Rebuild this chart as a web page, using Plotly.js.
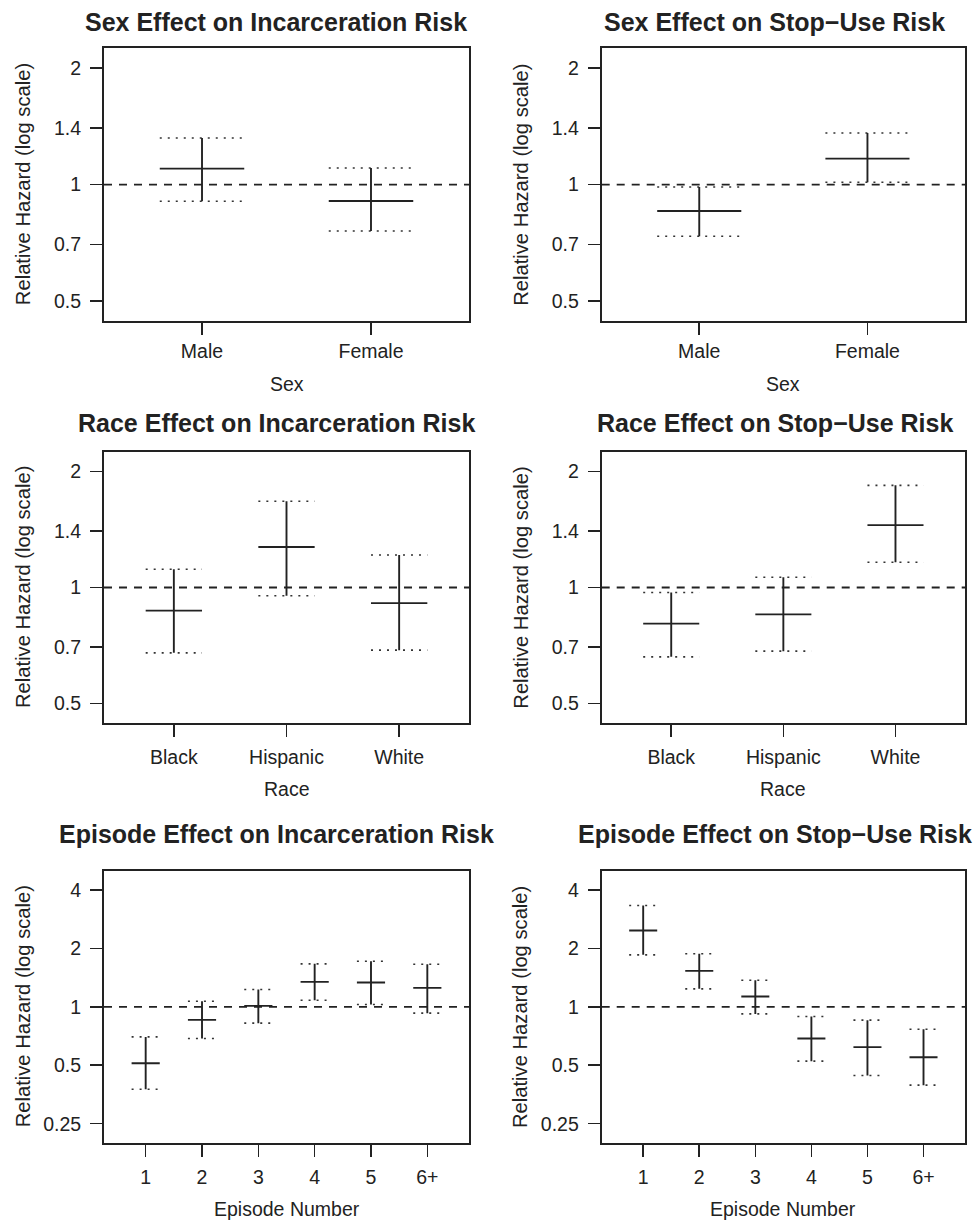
<!DOCTYPE html>
<html>
<head>
<meta charset="utf-8">
<script src="https://cdn.plot.ly/plotly-3.0.1.min.js"></script>
<style>
  html, body { margin: 0; padding: 0; background: #ffffff; }
  #chart { width: 975px; height: 1220px; }
</style>
</head>
<body>
<div id="chart"></div>
<script>
// ---------------- DATA ----------------
const sexCategories = ["Male", "Female"];
const sexIncEstimate = [1.10, 0.907];
const sexIncLower    = [0.906, 0.759];
const sexIncUpper    = [1.319, 1.104];

const sexStopEstimate = [0.855, 1.167];
const sexStopLower    = [0.736, 1.014];
const sexStopUpper    = [0.986, 1.359];

const raceCategories = ["Black", "Hispanic", "White"];
const raceIncEstimate = [0.871, 1.273, 0.911];
const raceIncLower    = [0.677, 0.952, 0.688];
const raceIncUpper    = [1.115, 1.674, 1.214];

const raceStopEstimate = [0.806, 0.852, 1.451];
const raceStopLower    = [0.661, 0.684, 1.163];
const raceStopUpper    = [0.971, 1.063, 1.840];

const episodeCategories = ["1", "2", "3", "4", "5", "6+"];
const epIncEstimate = [0.5125, 0.857, 1.012, 1.345, 1.335, 1.253];
const epIncLower    = [0.376, 0.687, 0.824, 1.082, 1.028, 0.928];
const epIncUpper    = [0.700, 1.069, 1.228, 1.666, 1.719, 1.659];

const epStopEstimate = [2.474, 1.533, 1.130, 0.687, 0.620, 0.550];
const epStopLower    = [1.853, 1.238, 0.920, 0.525, 0.443, 0.395];
const epStopUpper    = [3.33, 1.876, 1.372, 0.892, 0.854, 0.767];

const yTicksNarrow = [0.5, 0.7, 1, 1.4, 2];
const yTickTextNarrow = ["0.5", "0.7", "1", "1.4", "2"];
const yTicksWide = [0.25, 0.5, 1, 2, 4];
const yTickTextWide = ["0.25", "0.5", "1", "2", "4"];
const referenceValue = 1;

const titles = [
  "Sex Effect on Incarceration Risk", "Sex Effect on Stop\u2212Use Risk",
  "Race Effect on Incarceration Risk", "Race Effect on Stop\u2212Use Risk",
  "Episode Effect on Incarceration Risk", "Episode Effect on Stop\u2212Use Risk"
];
const xTitles = ["Sex", "Sex", "Race", "Race", "Episode Number", "Episode Number"];
const yTitle = "Relative Hazard (log scale)";

// ---------------- LAYOUT GEOMETRY ----------------
const W = 975, H = 1220;
const FONT = "Liberation Sans, Arial, Helvetica, sans-serif";
const INK = "#222222";
const colX = [[104, 469], [601.7, 965]];
const rowY = [[48.3, 321], [451.7, 723.3], [871, 1142.7]];
const titleX = [276, 774.5];
const titleY = [21.5, 422.5, 834];
const HALF = 0.25;

const panels = [
  {cats: sexCategories, est: sexIncEstimate, lo: sexIncLower, hi: sexIncUpper, row: 0, col: 0},
  {cats: sexCategories, est: sexStopEstimate, lo: sexStopLower, hi: sexStopUpper, row: 0, col: 1},
  {cats: raceCategories, est: raceIncEstimate, lo: raceIncLower, hi: raceIncUpper, row: 1, col: 0},
  {cats: raceCategories, est: raceStopEstimate, lo: raceStopLower, hi: raceStopUpper, row: 1, col: 1},
  {cats: episodeCategories, est: epIncEstimate, lo: epIncLower, hi: epIncUpper, row: 2, col: 0},
  {cats: episodeCategories, est: epStopEstimate, lo: epStopLower, hi: epStopUpper, row: 2, col: 1}
];

const px2fx = p => p / W;
const px2fy = p => 1 - p / H;

const traces = [];
const layout = {
  width: W, height: H,
  margin: {l: 0, r: 0, t: 0, b: 0},
  paper_bgcolor: "#ffffff", plot_bgcolor: "#ffffff",
  showlegend: false,
  font: {family: FONT, color: INK, size: 19.5},
  annotations: [],
  shapes: []
};

const standoffX = [0, 3, 4];

panels.forEach((p, k) => {
  const n = k + 1;
  const xa = n === 1 ? "x" : "x" + n;
  const ya = n === 1 ? "y" : "y" + n;
  const xKey = n === 1 ? "xaxis" : "xaxis" + n;
  const yKey = n === 1 ? "yaxis" : "yaxis" + n;
  const m = p.cats.length;
  const pos = p.cats.map((c, i) => i + 1);
  const span = m * 1.08;
  const xr = [0.5 + m / 2 - span / 2, 0.5 + m / 2 + span / 2];
  const wide = p.row === 2;
  const yr = wide ? [-0.70, 0.70] : [-0.352, 0.352];

  // reference dashed line
  traces.push({
    type: "scatter", mode: "lines", xaxis: xa, yaxis: ya,
    x: [xr[0], xr[1]], y: [referenceValue, referenceValue],
    line: {color: INK, width: 1.8, dash: "8px,7px"}, hoverinfo: "skip", cliponaxis: true
  });

  // dotted CI bounds
  const dx = [], dy = [];
  pos.forEach((x, i) => {
    dx.push(x - HALF, x + HALF, null, x - HALF, x + HALF, null);
    dy.push(p.hi[i], p.hi[i], null, p.lo[i], p.lo[i], null);
  });
  traces.push({
    type: "scatter", mode: "lines", xaxis: xa, yaxis: ya, x: dx, y: dy,
    line: {color: "#333333", width: 1.6, dash: "2px,6px"}, hoverinfo: "skip"
  });

  // vertical CI + horizontal estimate
  const cx = [], cy = [];
  pos.forEach((x, i) => {
    cx.push(x, x, null, x - HALF, x + HALF, null);
    cy.push(p.lo[i], p.hi[i], null, p.est[i], p.est[i], null);
  });
  traces.push({
    type: "scatter", mode: "lines", xaxis: xa, yaxis: ya, x: cx, y: cy,
    line: {color: INK, width: 1.9}, hoverinfo: "skip"
  });

  const common = {
    showline: true, mirror: true, linecolor: INK, linewidth: 2,
    ticks: "outside", ticklen: 12, tickwidth: 1.6, tickcolor: INK,
    showgrid: false, zeroline: false, fixedrange: true,
    tickfont: {family: FONT, size: 19.5, color: INK}
  };
  layout[xKey] = Object.assign({}, common, {
    domain: [px2fx(colX[p.col][0]), px2fx(colX[p.col][1])],
    anchor: ya, range: xr, type: "linear",
    tickmode: "array", tickvals: pos, ticktext: p.cats,
    ticklabelstandoff: standoffX[p.row]
  });
  layout[yKey] = Object.assign({}, common, {
    domain: [px2fy(rowY[p.row][1]), px2fy(rowY[p.row][0])],
    anchor: xa, type: "log", range: yr,
    tickmode: "array",
    tickvals: wide ? yTicksWide : yTicksNarrow,
    ticktext: wide ? yTickTextWide : yTickTextNarrow,
    ticklabelstandoff: 5
  });

  // main title
  layout.annotations.push({
    xref: "paper", yref: "paper",
    x: px2fx(titleX[p.col]), y: px2fy(titleY[p.row]),
    xanchor: "center", yanchor: "middle", showarrow: false,
    text: "<b>" + titles[k] + "</b>",
    font: {family: FONT, size: 25, color: INK}
  });
  // x-axis title
  const xMid = (colX[p.col][0] + colX[p.col][1]) / 2;
  layout.annotations.push({
    xref: "paper", yref: "paper",
    x: px2fx(xMid), y: px2fy(rowY[p.row][1] + (p.row === 0 ? 63 : 66)),
    xanchor: "center", yanchor: "middle", showarrow: false,
    text: xTitles[k], font: {family: FONT, size: 19.5, color: INK}
  });
  // y-axis title
  const yMid = (rowY[p.row][0] + rowY[p.row][1]) / 2;
  layout.annotations.push({
    xref: "paper", yref: "paper",
    x: px2fx(colX[p.col][0] - 81.5), y: px2fy(yMid),
    xanchor: "center", yanchor: "middle", showarrow: false, textangle: -90,
    text: yTitle, font: {family: FONT, size: 20.2, color: INK}
  });
});

Plotly.newPlot("chart", traces, layout, {staticPlot: true, displayModeBar: false});
</script>
</body>
</html>
